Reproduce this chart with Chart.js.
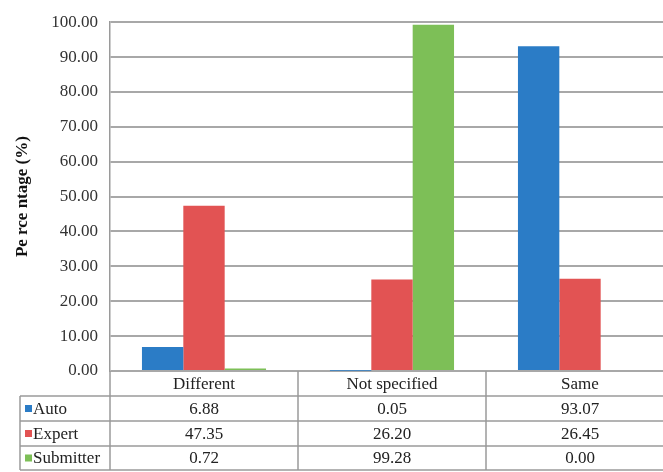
<!DOCTYPE html>
<html>
<head>
<meta charset="utf-8">
<script src="https://cdn.jsdelivr.net/npm/chart.js@4/dist/chart.umd.min.js"></script>
<style>
  html, body { margin: 0; padding: 0; background: #fff; overflow: hidden; }
  #wrap { width: 674px; height: 472px; }
</style>
</head>
<body>
<div id="wrap"><canvas id="chart" width="674" height="472"></canvas></div>
<script>
const categories = ['Different', 'Not specified', 'Same'];
const seriesNames = ['Auto', 'Expert', 'Submitter'];
const autoValues = [6.88, 0.05, 93.07];
const expertValues = [47.35, 26.20, 26.45];
const submitterValues = [0.72, 99.28, 0.00];
const yTicks = [0, 10, 20, 30, 40, 50, 60, 70, 80, 90, 100];

const colors = ['#2b7cc6', '#e25353', '#7dbf57'];
const serif = "'Liberation Serif', 'DejaVu Serif', serif";

// data table drawn under the plot, aligned with the category scale
const tablePlugin = {
  id: 'dataTable',
  afterDraw(chart) {
    const ctx = chart.ctx;
    const area = chart.chartArea;
    const x = chart.scales.x;
    const colW = (area.right - area.left) / categories.length;
    const rowTop = area.bottom;
    const rows = [rowTop, 396, 421, 446, 470];
    const tableLeft = 20;
    const values = [autoValues, expertValues, submitterValues];

    ctx.save();
    ctx.strokeStyle = '#9a9a9a';
    ctx.lineWidth = 1.5;
    ctx.beginPath();
    for (let r = 1; r < rows.length; r++) {
      ctx.moveTo(tableLeft, rows[r]);
      ctx.lineTo(area.right, rows[r]);
    }
    ctx.moveTo(tableLeft, rows[1]);
    ctx.lineTo(tableLeft, rows[4]);
    for (let i = 0; i <= categories.length; i++) {
      const px = area.left + i * colW;
      ctx.moveTo(px, rowTop);
      ctx.lineTo(px, rows[4]);
    }
    ctx.stroke();

    ctx.fillStyle = '#222';
    ctx.font = '17px ' + serif;
    ctx.textAlign = 'center';
    ctx.textBaseline = 'middle';
    categories.forEach((c, i) => {
      const cx = x.getPixelForValue(i);
      ctx.fillText(c, cx, (rows[0] + rows[1]) / 2 + 1);
      values.forEach((vals, s) => {
        ctx.fillText(vals[i].toFixed(2), cx, (rows[s + 1] + rows[s + 2]) / 2 + 1);
      });
    });

    ctx.textAlign = 'left';
    seriesNames.forEach((name, s) => {
      const cy = (rows[s + 1] + rows[s + 2]) / 2;
      ctx.fillStyle = colors[s];
      ctx.fillRect(25, cy - 3.5, 7, 7);
      ctx.fillStyle = '#222';
      ctx.fillText(name, 33, cy + 1);
    });
    ctx.restore();
  }
};

new Chart(document.getElementById('chart'), {
  type: 'bar',
  data: {
    labels: categories,
    datasets: [
      { label: seriesNames[0], data: autoValues, backgroundColor: colors[0] },
      { label: seriesNames[1], data: expertValues, backgroundColor: colors[1] },
      { label: seriesNames[2], data: submitterValues, backgroundColor: colors[2] }
    ]
  },
  options: {
    responsive: false,
    animation: false,
    devicePixelRatio: 1,
    layout: { padding: { left: 8, top: 16, right: 0, bottom: 101 } },
    plugins: { legend: { display: false }, tooltip: { enabled: false } },
    datasets: { bar: { categoryPercentage: 0.66, barPercentage: 1 } },
    scales: {
      x: { display: false },
      y: {
        min: 0,
        max: 100,
        afterBuildTicks(scale) { scale.ticks = yTicks.map(v => ({ value: v })); },
        afterFit(scale) { scale.width = 102; },
        border: { display: true, color: '#9a9a9a', width: 1.5 },
        grid: { color: '#a8a8a8', lineWidth: 2, drawTicks: false },
        ticks: {
          padding: 12,
          color: '#333',
          font: { family: serif, size: 17 },
          callback: v => v.toFixed(2)
        },
        title: {
          display: true,
          text: 'Pe rce ntage (%)',
          color: '#111',
          font: { family: serif, size: 17, weight: 'bold' }
        }
      }
    }
  },
  plugins: [tablePlugin]
});
</script>
</body>
</html>
